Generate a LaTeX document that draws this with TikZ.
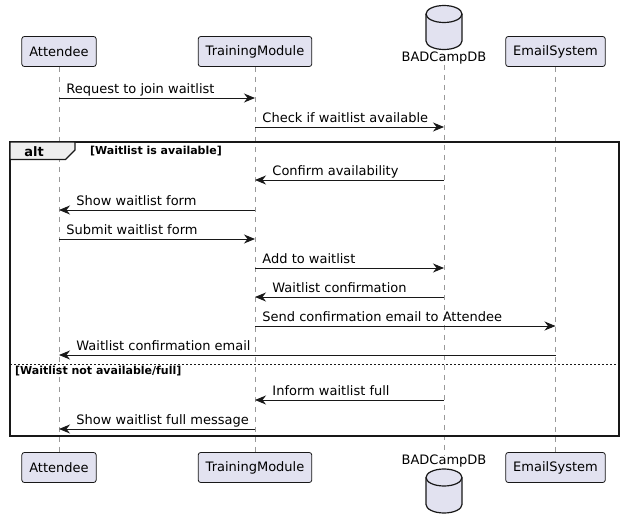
\documentclass[tikz,border=0pt]{standalone}
\usepackage{fontspec}
\setmainfont{DejaVu Sans}
\usepackage{tikz}
\usetikzlibrary{shapes, calc, arrows.meta}

\definecolor{partfill}{HTML}{E2E2F0}
\definecolor{partline}{HTML}{181818}
\definecolor{tabfill}{HTML}{EEEEEE}

\tikzset{
	partbox/.style={draw=partline, fill=partfill, line width=0.8pt, rounded corners=2.5pt, minimum height=30pt, inner xsep=7.5pt, font=\fontsize{13}{15}\selectfont},
	dbline/.style={draw=partline, fill=partfill, line width=1.2pt},
	dblbl/.style={inner sep=0pt, font=\fontsize{13}{15}\selectfont},
	lifeline/.style={draw=gray!80, dash pattern=on 5pt off 5pt, line width=0.5pt},
	msg/.style={draw=partline, line width=0.9pt, -{Stealth[length=11pt, width=9pt, inset=3.5pt]}},
	msglbl/.style={font=\fontsize{13}{15}\selectfont, inner sep=0pt, anchor=base west, yshift=5pt},
	guard/.style={font=\bfseries\fontsize{11}{13}\selectfont, inner sep=0pt, anchor=west},
}

% database drum: name, centre
\newcommand{\dbdrum}[2]{%
	\coordinate (#1) at (#2);
	\begin{scope}[shift={(#2)}]
		\draw[dbline] (-18,-13.5) -- (-18,13.5) arc (180:0:18 and 8.5) -- (18,-13.5) arc (0:-180:18 and 8.5) -- cycle;
		\draw[dbline, fill=none] (-18,-13.5) arc (180:0:18 and 8.5);
	\end{scope}}

\begin{document}
\begin{tikzpicture}[x=1pt, y=-1pt]
	
		\useasboundingbox (0,0) rectangle (624,530);
		
		% participants, top and bottom
		\node[partbox] (attT) at (59,51.5) 		{Attendee};
		\node[partbox] (tmT) at (255,51.5) 		{TrainingModule};
		\dbdrum{dbT}{444,27.5}
		\node[dblbl] (dbTl) at (444,58.5) 		{BADCampDB};
		\node[partbox] (emT) at (555.5,51.5) 	{EmailSystem};
		
		\node[partbox] (attB) at (59,467.5) 	{Attendee};
		\node[partbox] (tmB) at (255,467.5) 	{TrainingModule};
		\node[dblbl] (dbBl) at (444,461.5) 		{BADCampDB};
		\dbdrum{dbB}{444,491}
		\node[partbox] (emB) at (555.5,467.5) 	{EmailSystem};
		
		% lifelines
		\draw[lifeline] (attT) -- (attB);
		\draw[lifeline] (tmT) -- (tmB);
		\draw[lifeline] (dbTl) -- (dbBl);
		\draw[lifeline] (emT) -- (emB);
		
		% message points on each lifeline
		\foreach \i/\y in {1/98, 2/127, 3/180, 4/210, 5/239, 6/268, 7/297, 8/326, 9/355, 10/400, 11/429} {
			\coordinate (a\i) at (59,\y);
			\coordinate (t\i) at (255,\y);
			\coordinate (d\i) at (444,\y);
			\coordinate (e\i) at (555.5,\y);
		}
		
		% alt frame
		\draw[partline, line width=1.5pt] (10,142) rectangle (619,436);
		\draw[partline, fill=tabfill, line width=1.2pt] (10,142) -- (75,142) -- (75,150) -- (65.5,159.5) -- (10,159.5) -- cycle;
		\node[font=\bfseries\fontsize{13}{15}\selectfont, inner sep=0pt] (alttag) at (34,151.5) {alt};
		\node[guard] (g1) at (90,151.5) {[Waitlist is available]};
		\draw[partline, dash pattern=on 2pt off 2pt, line width=0.7pt] (10,364) -- (619,364);
		\node[guard] (g2) at (15,371.5) {[Waitlist not available/full]};
		
		% messages
		\draw[msg] (a1) -- (t1) node[msglbl, pos=0, xshift=7pt] {Request to join waitlist};
		\draw[msg] (t2) -- (d2) node[msglbl, pos=0, xshift=7pt] {Check if waitlist available};
		\draw[msg] (d3) -- (t3) node[msglbl, pos=1, xshift=17pt] {Confirm availability};
		\draw[msg] (t4) -- (a4) node[msglbl, pos=1, xshift=17pt] {Show waitlist form};
		\draw[msg] (a5) -- (t5) node[msglbl, pos=0, xshift=7pt] {Submit waitlist form};
		\draw[msg] (t6) -- (d6) node[msglbl, pos=0, xshift=7pt] {Add to waitlist};
		\draw[msg] (d7) -- (t7) node[msglbl, pos=1, xshift=17pt] {Waitlist confirmation};
		\draw[msg] (t8) -- (e8) node[msglbl, pos=0, xshift=7pt] {Send confirmation email to Attendee};
		\draw[msg] (e9) -- (a9) node[msglbl, pos=1, xshift=17pt] {Waitlist confirmation email};
		\draw[msg] (d10) -- (t10) node[msglbl, pos=1, xshift=17pt] {Inform waitlist full};
		\draw[msg] (t11) -- (a11) node[msglbl, pos=1, xshift=17pt] {Show waitlist full message};
		
	\end{tikzpicture}
\end{document}
